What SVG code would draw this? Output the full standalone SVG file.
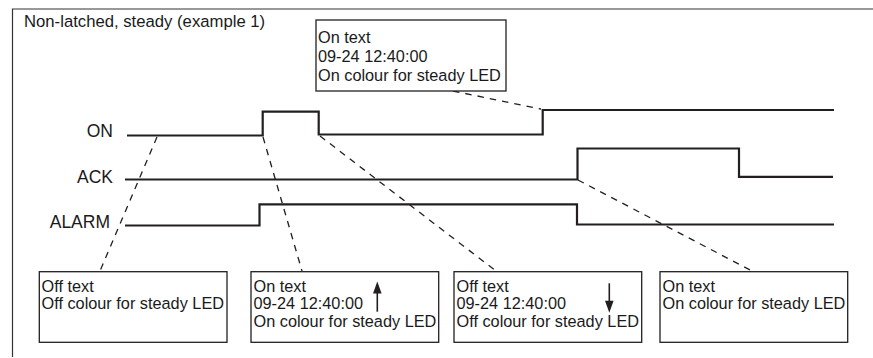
<svg xmlns="http://www.w3.org/2000/svg" width="873" height="358" viewBox="0 0 873 358">
<style>
text{font-family:"Liberation Sans",Arial,sans-serif;fill:#1a1a1a}
.t{font-size:16.3px}
.lbl{font-size:17.5px;text-anchor:end}
.box{fill:#fff;stroke:#231f20;stroke-width:1.3}
.sig{fill:none;stroke:#231f20;stroke-width:2.2}
.dash{fill:none;stroke:#231f20;stroke-width:1.3;stroke-dasharray:6.5 6}
.arr{stroke:#231f20;stroke-width:1.6}
.head{fill:#231f20}
</style>
<g id="frame">
<path d="M12.5,357 V9 H873" fill="none" stroke="#333" stroke-width="1.2"/>
<text class="t" x="24" y="27" style="font-size:16.7px">Non-latched, steady (example 1)</text>
</g>
<g id="connectors">
<path class="dash" d="M453,91 L541,109"/>
<path class="dash" d="M157,137 L100,271"/>
<path class="dash" d="M263,137 L302,271"/>
<path class="dash" d="M320,136 L496,271"/>
<path class="dash" d="M578,180 L752,271"/>
</g>
<g id="signal-on">
<text class="lbl" x="113" y="137">ON</text>
<path class="sig" d="M127,135.5 H262.7 V111.7 H318.7 V134.5 H542.7 V110 H834"/>
</g>
<g id="signal-ack">
<text class="lbl" x="113" y="183">ACK</text>
<path class="sig" d="M125,179.5 H577.5 V148.5 H739 V176.8 H833"/>
</g>
<g id="signal-alarm">
<text class="lbl" x="110" y="228">ALARM</text>
<path class="sig" d="M125,225.5 H259.5 V204.3 H577 V224.5 H834"/>
</g>
<g id="box-top">
<rect class="box" x="316" y="20" width="190" height="71"/>
<text class="t" x="318" y="43">On text</text>
<text class="t" x="318" y="62">09-24 12:40:00</text>
<text class="t" x="318" y="81">On colour for steady LED</text>
</g>
<g id="box-1">
<rect class="box" x="39.3" y="271.7" width="187.7" height="70.6"/>
<text class="t" x="41.5" y="291.7">Off text</text>
<text class="t" x="41.5" y="309">Off colour for steady LED</text>
</g>
<g id="box-2">
<rect class="box" x="251" y="271.7" width="187.7" height="70.6"/>
<text class="t" x="253.5" y="291.7">On text</text>
<text class="t" x="253.5" y="309">09-24 12:40:00</text>
<text class="t" x="253.5" y="326.7">On colour for steady LED</text>
<line class="arr" x1="377.3" y1="311.7" x2="377.3" y2="290"/>
<path class="head" d="M377.3,281.5 L381.6,293.5 L373,293.5 z"/>
</g>
<g id="box-3">
<rect class="box" x="454" y="271.7" width="187.7" height="70.6"/>
<text class="t" x="456.5" y="291.7">Off text</text>
<text class="t" x="456.5" y="309">09-24 12:40:00</text>
<text class="t" x="456.5" y="326.7">Off colour for steady LED</text>
<line class="arr" x1="609.3" y1="283.3" x2="609.3" y2="304"/>
<path class="head" d="M609.3,312.8 L613.6,300.8 L605,300.8 z"/>
</g>
<g id="box-4">
<rect class="box" x="660" y="271.7" width="187.7" height="70.6"/>
<text class="t" x="662.5" y="291.7">On text</text>
<text class="t" x="662.5" y="309">On colour for steady LED</text>
</g>
</svg>
